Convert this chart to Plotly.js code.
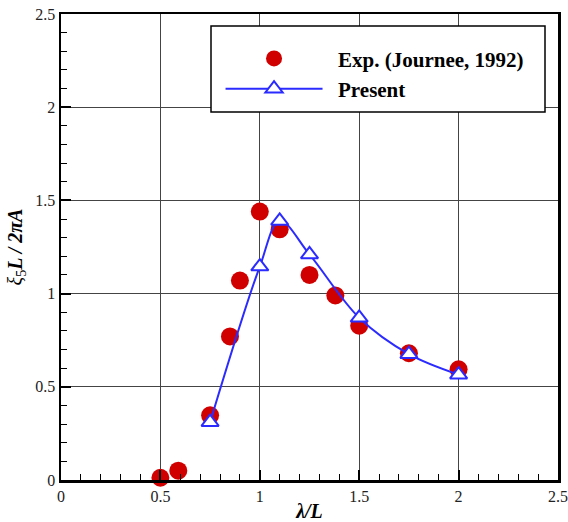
<!DOCTYPE html>
<html>
<head>
<meta charset="utf-8">
<script src="https://cdn.plot.ly/plotly-3.0.1.min.js"></script>
<style>html,body{margin:0;padding:0;background:#fff;}#chart{width:568px;height:522px;}</style>
</head>
<body>
<div id="chart"></div>
<script>
// Experimental data (Journee, 1992)
const expX = [0.5, 0.59, 0.75, 0.85, 0.9, 1.0, 1.1, 1.25, 1.38, 1.5, 1.75, 2.0];
const expY = [0.012, 0.05, 0.347, 0.77, 1.07, 1.44, 1.345, 1.10, 0.99, 0.828, 0.68, 0.594];
// Present computation
const presX = [0.75, 1.0, 1.1, 1.25, 1.5, 1.75, 2.0];
const presY = [0.31, 1.145, 1.39, 1.21, 0.87, 0.675, 0.565];
const xTicks = [0, 0.5, 1, 1.5, 2, 2.5];
const yTicks = [0, 0.5, 1, 1.5, 2, 2.5];

const serif = 'Liberation Serif, Times New Roman, serif';

const traces = [
  {
    x: expX, y: expY, type: 'scatter', mode: 'markers',
    name: '&nbsp;&nbsp;<b>Exp. (Journee, 1992)</b>',
    marker: {symbol: 'circle', size: 18, color: '#d00000', line: {width: 0}},
    cliponaxis: false
  },
  {
    x: presX, y: presY, type: 'scatter', mode: 'lines+markers',
    name: '&nbsp;&nbsp;<b>Present</b>',
    line: {color: '#2b2bff', width: 2, shape: 'spline', smoothing: 1},
    marker: {symbol: 'triangle-up', size: 15, color: '#ffffff', line: {color: '#2b2bff', width: 2}},
    cliponaxis: false
  }
];

const axisCommon = {
  showline: true, linecolor: '#000', linewidth: 2.5, mirror: true,
  showgrid: true, gridcolor: '#444', gridwidth: 1,
  zeroline: false,
  ticks: 'inside', ticklen: 10, tickwidth: 2, tickcolor: '#000',
  tickfont: {family: serif, size: 16, color: '#222'},
  minor: {dtick: 0.1, ticks: 'inside', ticklen: 6, tickwidth: 1, tickcolor: '#000', showgrid: false}
};

const layout = {
  width: 568, height: 522,
  margin: {l: 61, r: 10, t: 14, b: 42},
  paper_bgcolor: '#fff', plot_bgcolor: '#fff',
  showlegend: true,
  xaxis: Object.assign({}, axisCommon, {
    range: [0, 2.5], tickvals: xTicks, ticktext: xTicks.map(String),
    title: {text: '<b><i>λ/L</i></b>', font: {family: serif, size: 20, color: '#000'}, standoff: 6}
  }),
  yaxis: Object.assign({}, axisCommon, {
    range: [0, 2.5], tickvals: yTicks, ticktext: yTicks.map(String),
    title: {text: '<i>ξ</i><sub>5</sub><b><i>L / 2πA</i></b>', font: {family: serif, size: 20, color: '#000'}, standoff: 8}
  }),
  legend: {
    x: 0.321, xanchor: 'left', y: 0.948, yanchor: 'top',
    bgcolor: 'rgba(0,0,0,0)', borderwidth: 0,
    font: {family: serif, size: 21, color: '#000'},
    itemwidth: 97, tracegroupgap: 0
  },
  shapes: [{
    type: 'rect', xref: 'paper', yref: 'paper',
    x0: (211 - 61) / 497, x1: (545 - 61) / 497,
    y0: (480 - 112) / 466, y1: (480 - 26) / 466,
    fillcolor: '#fff', line: {color: '#000', width: 1.5}, layer: 'above'
  }]
};

Plotly.newPlot('chart', traces, layout, {staticPlot: true, displayModeBar: false});
</script>
</body>
</html>
